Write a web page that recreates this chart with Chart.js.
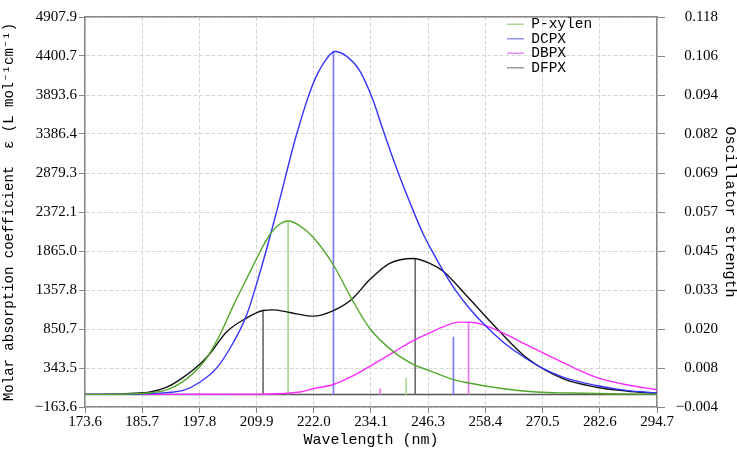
<!DOCTYPE html>
<html><head><meta charset="utf-8">
<script src="https://cdn.jsdelivr.net/npm/chart.js@4.4.1/dist/chart.umd.min.js"></script>
<style>html,body{margin:0;padding:0;background:#fff;}canvas{display:block;}</style>
</head><body>
<canvas id="c" width="737" height="451"></canvas>
<script>
// ---- data ----
const seriesNames = ['P-xylen', 'DCPX', 'DBPX', 'DFPX'];

const xTickLabels = ['173.6','185.7','197.8','209.9','222.0','234.1','246.3','258.4','270.5','282.6','294.7'];
const yTickLabels = ['\u2212163.6','343.5','850.7','1357.8','1865.0','2372.1','2879.3','3386.4','3893.6','4400.7','4907.9'];
const y2TickLabels = ['\u22120.004','0.008','0.020','0.033','0.045','0.057','0.069','0.082','0.094','0.106','0.118'];

const pxylenWl  = [173.6,181.0,184.2,187.4,190.9,194.4,197.9,199.9,202.4,205.0,208.5,211.3,212.8,214.5,216.7,219.1,221.9,226.2,230.1,233.9,239.2,243.1,246.6,251.6,255.1,262.2,269.2,276.3,284.7,294.7];
const pxylenEps = [0,2,8,22,60,170,360,525,805,1155,1590,1930,2086,2200,2255,2192,2044,1683,1238,857,540,392,307,192,145,74,31,18,8,2];

const dcpxWl  = [173.6,183.1,187.4,190.9,194.4,197.9,201.5,205.0,207.8,210.6,212.8,214.9,218.4,221.9,224.0,226.5,229.0,231.8,234.6,236.1,239.6,242.4,245.2,247.3,249.5,252.1,255.1,258.6,262.1,265.7,270.1,274.9,281.9,288.1,294.7];
const dcpxEps = [0,1,10,24,52,158,345,675,1030,1578,2060,2553,3383,4044,4298,4459,4396,4205,3824,3548,2934,2493,2086,1840,1599,1349,1111,879,682,519,351,222,116,52,18];

const dbpxWl  = [173.6,197.9,211.3,219.1,221.9,226.2,230.4,234.6,239.2,243.1,246.6,248.8,253.0,255.8,260.8,265.7,271.3,276.3,281.9,288.3,294.7];
const dbpxEps = [0,2,4,31,74,129,243,392,560,700,800,865,940,935,837,688,519,370,222,125,61];

const dfpxWl  = [173.6,178.9,183.1,187.4,190.9,194.4,197.9,199.9,203.6,207.8,211.3,213.5,216.1,218.4,221.9,226.2,230.1,233.9,238.1,243.1,246.6,249.5,254.4,260.8,267.1,274.9,281.9,288.3,294.7];
const dfpxEps = [0,4,14,31,94,222,392,519,815,993,1091,1099,1076,1048,1018,1091,1238,1493,1705,1768,1705,1599,1282,857,476,201,94,44,11];

// oscillator strengths (sticks)
const pxylenStickWl = [216.6, 241.6]; const pxylenStickF = [0.0543, 0.0050];
const dcpxStickWl   = [226.2, 251.6]; const dcpxStickF   = [0.1073, 0.0179];
const dbpxStickWl   = [236.1, 254.8]; const dbpxStickF   = [0.0016, 0.0226];
const dfpxStickWl   = [211.3, 243.5]; const dfpxStickF   = [0.0262, 0.0425];

const xMin = 173.6, xMax = 294.7;
const yMin = -163.6, yMax = 4907.9;
const y2Min = -0.004, y2Max = 0.118;

// ---- build ----
const pts = (xs, ys) => xs.map((x, i) => ({x: x, y: ys[i]}));
const evenTicks = (a, b, n) => Array.from({length: n}, (_, i) => ({value: a + (b - a) * i / (n - 1)}));

const curveColors = ['#52a82a', '#3434ff', '#ff2cff', '#111111'];
const stickColors = ['#a6d98e', '#7c7cff', '#ee72ee', '#6e6e6e'];
const legendColors = ['#a8d898', '#9090ee', '#e08ff0', '#9a9a9a'];

const curveData = [pts(pxylenWl, pxylenEps), pts(dcpxWl, dcpxEps), pts(dbpxWl, dbpxEps), pts(dfpxWl, dfpxEps)];
const stickData = [pts(pxylenStickWl, pxylenStickF), pts(dcpxStickWl, dcpxStickF), pts(dbpxStickWl, dbpxStickF), pts(dfpxStickWl, dfpxStickF)];

const datasets = [];
datasets.push({
  type: 'line', label: 'zero', data: [{x: xMin, y: 0}, {x: xMax, y: 0}], yAxisID: 'y',
  borderColor: '#555555', borderWidth: 1.5, pointRadius: 0, order: 5
});
seriesNames.forEach((n, i) => {
  datasets.push({
    type: 'bar', label: n, data: stickData[i], yAxisID: 'y2', xAxisID: 'x',
    backgroundColor: stickColors[i], borderWidth: 0, barThickness: 1, grouped: false, order: 4
  });
});
seriesNames.forEach((n, i) => {
  datasets.push({
    type: 'line', label: n + ' curve', data: curveData[i], yAxisID: 'y',
    borderColor: curveColors[i], borderWidth: 1.4, pointRadius: 0, fill: false,
    cubicInterpolationMode: 'monotone', order: 1
  });
});

const tickFont = {family: '"Liberation Serif", serif', size: 15};
const titleFont = {family: '"Liberation Mono", monospace', size: 15};
const gridCommon = {color: '#d6d6d6', tickColor: '#888888', tickLength: 6, tickBorderDash: [], offset: false};
const borderCommon = {color: '#888888', width: 1.5, dash: [4, 2]};

const legendMover = {
  id: 'legendMover',
  afterLayout(chart) {
    const lg = chart.legend;
    if (lg) { lg.left = 507; lg.right = 640; lg.top = 17; lg.bottom = 90; }
  }
};

new Chart(document.getElementById('c'), {
  data: {datasets: datasets},
  plugins: [legendMover],
  options: {
    responsive: false, animation: false, devicePixelRatio: 1,
    layout: {padding: {left: 0, top: 0, bottom: 0, right: 19}},
    plugins: {
      tooltip: {enabled: false},
      legend: {
        position: 'chartArea', align: 'start',
        labels: {
          font: {family: '"Liberation Mono", monospace', size: 14.5},
          color: '#000', usePointStyle: true, pointStyleWidth: 17, padding: 0,
          generateLabels: () => seriesNames.map((n, i) => ({
            text: n, pointStyle: 'line', strokeStyle: legendColors[i], fillStyle: legendColors[i],
            lineWidth: 1.5, hidden: false, datasetIndex: 1 + i, fontColor: '#000'
          }))
        }
      }
    },
    scales: {
      x: {
        type: 'linear', position: 'bottom', min: xMin, max: xMax, offset: false,
        afterBuildTicks: s => { s.ticks = evenTicks(xMin, xMax, xTickLabels.length); },
        afterFit: s => { s.height = 44; },
        ticks: {font: tickFont, color: '#000', padding: 0, maxRotation: 0, autoSkip: false,
                callback: (v, i) => xTickLabels[i]},
        grid: gridCommon, border: borderCommon,
        title: {display: true, text: 'Wavelength (nm)', font: titleFont, color: '#000', padding: {top: 0, bottom: 2}}
      },
      xTop: {
        type: 'linear', position: 'top', min: xMin, max: xMax, offset: false,
        afterFit: s => { s.height = 8; },
        ticks: {display: false}, grid: {display: false, drawTicks: false, offset: false},
        border: {color: '#888888', width: 1.5}
      },
      y: {
        type: 'linear', position: 'left', min: yMin, max: yMax,
        afterBuildTicks: s => { s.ticks = evenTicks(yMin, yMax, yTickLabels.length); },
        afterFit: s => { s.width = 85; },
        ticks: {font: tickFont, color: '#000', padding: 2, autoSkip: false,
                callback: (v, i) => yTickLabels[i]},
        grid: gridCommon, border: borderCommon,
        title: {display: true, text: 'Molar absorption coefficient  \u03B5 (L mol\u207B\u00B9cm\u207B\u00B9)',
                font: {family: '"Liberation Mono", monospace', size: 14}, color: '#000', padding: {top: 1, bottom: 0}}
      },
      y2: {
        type: 'linear', position: 'right', min: y2Min, max: y2Max,
        afterBuildTicks: s => { s.ticks = evenTicks(y2Min, y2Max, y2TickLabels.length); },
        afterFit: s => { s.width = 61; },
        ticks: {font: tickFont, color: '#000', padding: 8, autoSkip: false, crossAlign: 'far',
                callback: (v, i) => y2TickLabels[i]},
        grid: {drawOnChartArea: false, tickColor: '#888888', tickLength: 8},
        border: {color: '#888888', width: 1.5},
        title: {display: true, text: 'Oscillator strength', font: titleFont, color: '#000', padding: {top: -21, bottom: 0}}
      }
    }
  }
});
</script>
</body></html>
